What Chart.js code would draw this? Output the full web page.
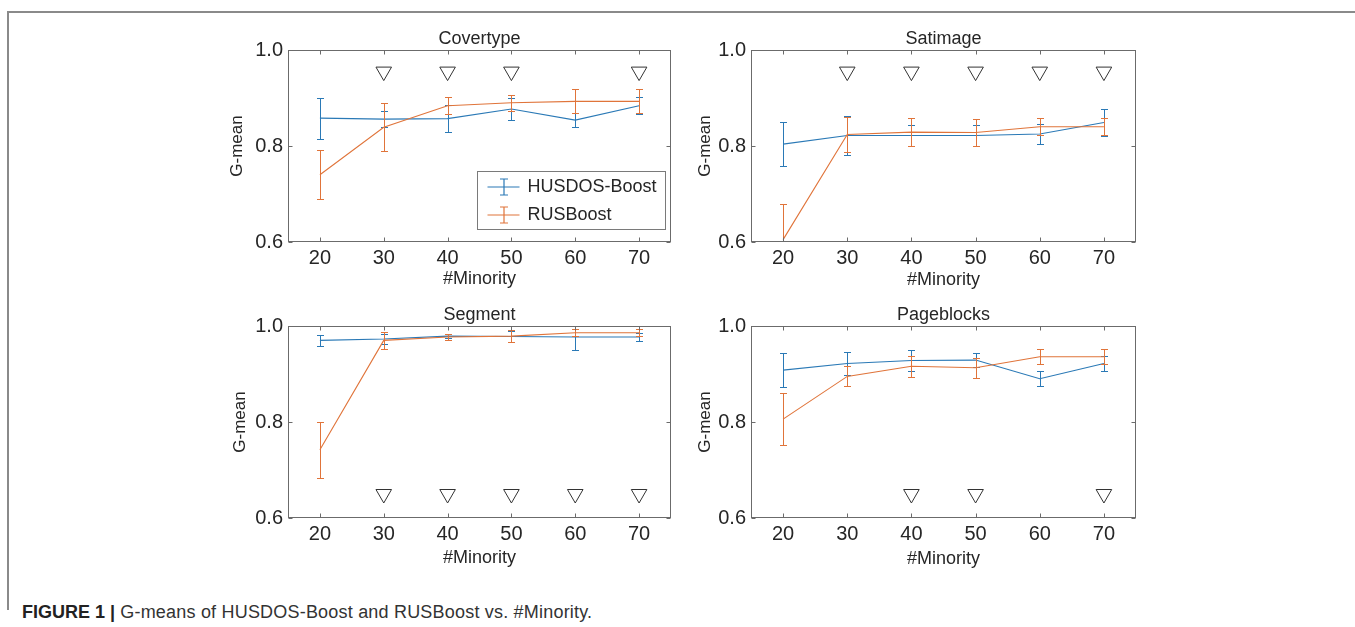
<!DOCTYPE html>
<html><head><meta charset="utf-8">
<script src="https://cdn.jsdelivr.net/npm/chart.js@4.4.1/dist/chart.umd.min.js"></script>
<style>
html,body{margin:0;padding:0;background:#fff;width:1355px;height:627px;overflow:hidden;font-family:"Liberation Sans",Arial,Helvetica,sans-serif;}
.frame{position:absolute;left:7px;top:11px;width:1350px;height:597px;border-top:2px solid #8a8a8a;border-left:2px solid #8a8a8a;}
canvas{position:absolute;}
.caption{position:absolute;left:22px;top:602px;font-size:18px;color:#333;white-space:nowrap;letter-spacing:0.2px;}
.caption b{color:#222;letter-spacing:0;}
</style></head><body>
<div class="frame"></div>
<canvas id="c1"></canvas>
<canvas id="c2"></canvas>
<canvas id="c3"></canvas>
<canvas id="c4"></canvas>
<div class="caption"><b>FIGURE 1 |</b> G-means of HUSDOS-Boost and RUSBoost vs. #Minority.</div>
<script>
// ---------------- DATA ----------------
const minority = [20, 30, 40, 50, 60, 70];
const gTicks = [0.6, 0.8, 1.0];
const seriesNames = ['HUSDOS-Boost', 'RUSBoost'];
const panelTitles = ['Covertype', 'Satimage', 'Segment', 'Pageblocks'];

const covHus    = [0.858, 0.856, 0.857, 0.877, 0.854, 0.884];
const covHusErr = [0.043, 0.016, 0.028, 0.022, 0.014, 0.018];
const covRus    = [0.740, 0.839, 0.884, 0.890, 0.893, 0.893];
const covRusErr = [0.051, 0.050, 0.018, 0.017, 0.025, 0.025];
const covSig    = [30, 40, 50, 70];

const satHus    = [0.804, 0.822, 0.822, 0.822, 0.825, 0.849];
const satHusErr = [0.046, 0.041, 0.022, 0.021, 0.021, 0.028];
const satRus    = [0.605, 0.824, 0.829, 0.828, 0.840, 0.840];
const satRusErr = [0.075, 0.036, 0.030, 0.028, 0.018, 0.018];
const satSig    = [30, 40, 50, 60, 70];

const segHus    = [0.970, 0.973, 0.979, 0.978, 0.977, 0.977];
const segHusErr = [0.011, 0.011, 0.005, 0.011, 0.026, 0.009];
const segRus    = [0.742, 0.970, 0.977, 0.979, 0.986, 0.986];
const segRusErr = [0.058, 0.017, 0.007, 0.012, 0.007, 0.007];
const segSig    = [30, 40, 50, 60, 70];

const pbHus     = [0.908, 0.922, 0.928, 0.929, 0.890, 0.922];
const pbHusErr  = [0.036, 0.024, 0.022, 0.014, 0.016, 0.015];
const pbRus     = [0.806, 0.895, 0.916, 0.913, 0.936, 0.936];
const pbRusErr  = [0.054, 0.021, 0.022, 0.021, 0.016, 0.016];
const pbSig     = [40, 50, 70];

const sigLevelTop = 0.955;     // marker level, top row panels
const sigLevelBottom = 0.65;   // marker level, bottom row panels

// ---------------- STYLE / LAYOUT ----------------
const FONT = '"Liberation Sans", Arial, Helvetica, sans-serif';
const BLUE = '#2a79b6';
const ORANGE = '#e0743a';
const SERIES_COLORS = [BLUE, ORANGE];
const TEXT = '#262626';
const AXIS = '#6b6b6b';

const panels = [
  {id:'c1', L:288, R:671,  T:50,  B:242, yTitleGap:51,   xTitleGap:37, hus:covHus, husE:covHusErr, rus:covRus, rusE:covRusErr, sig:covSig, sigY:sigLevelTop, legend:true},
  {id:'c2', L:751, R:1136, T:50,  B:242, yTitleGap:45.5, xTitleGap:38, hus:satHus, husE:satHusErr, rus:satRus, rusE:satRusErr, sig:satSig, sigY:sigLevelTop},
  {id:'c3', L:288, R:671,  T:326, B:518, yTitleGap:47.5, xTitleGap:40, hus:segHus, husE:segHusErr, rus:segRus, rusE:segRusErr, sig:segSig, sigY:sigLevelBottom},
  {id:'c4', L:751, R:1136, T:326, B:518, yTitleGap:45.5, xTitleGap:41, hus:pbHus,  husE:pbHusErr,  rus:pbRus,  rusE:pbRusErr,  sig:pbSig,  sigY:sigLevelBottom}
];
const Y_AXIS_W = 75, TOP_H = 30, X_AXIS_H = 55, RIGHT_PAD = 14;

// ---------------- PLUGINS ----------------
const errorBarPlugin = {
  id: 'errbars',
  afterDatasetDraw(chart, args) {
    const ds = chart.data.datasets[args.index];
    if (!ds.errors) return;
    const {ctx, chartArea: a} = chart;
    const x = chart.scales.x, y = chart.scales.y;
    ctx.save();
    ctx.beginPath(); ctx.rect(a.left, a.top, a.width, a.height); ctx.clip();
    ctx.strokeStyle = SERIES_COLORS[args.index]; ctx.lineWidth = 1;
    ds.data.forEach((p, i) => {
      const e = ds.errors[i];
      const px = Math.round(x.getPixelForValue(p.x)) + 0.5;
      const y1 = Math.round(y.getPixelForValue(p.y + e)) + 0.5;
      const y2 = Math.round(y.getPixelForValue(p.y - e)) + 0.5;
      ctx.beginPath();
      ctx.moveTo(px, y1); ctx.lineTo(px, y2);
      ctx.moveTo(px - 3.5, y1); ctx.lineTo(px + 3.5, y1);
      ctx.moveTo(px - 3.5, y2); ctx.lineTo(px + 3.5, y2);
      ctx.stroke();
    });
    ctx.restore();
  }
};

const boxPlugin = {
  id: 'axbox',
  afterDraw(chart) {
    const {ctx, chartArea: a} = chart;
    const x = chart.scales.x, y = chart.scales.y;
    const l = Math.round(a.left) + 0.5, r = Math.round(a.right) - 0.5;
    const t = Math.round(a.top) + 0.5, b = Math.round(a.bottom) - 0.5;
    ctx.save();
    ctx.strokeStyle = AXIS; ctx.lineWidth = 1;
    ctx.strokeRect(l, t, r - l, b - t);
    ctx.beginPath();
    const tl = 4;
    x.ticks.forEach(tk => {
      const px = Math.round(x.getPixelForValue(tk.value)) + 0.5;
      ctx.moveTo(px, b); ctx.lineTo(px, b - tl);
      ctx.moveTo(px, t); ctx.lineTo(px, t + tl);
    });
    y.ticks.forEach(tk => {
      const py = Math.round(y.getPixelForValue(tk.value)) + 0.5;
      ctx.moveTo(l, py); ctx.lineTo(l + tl, py);
      ctx.moveTo(r, py); ctx.lineTo(r - tl, py);
    });
    ctx.stroke();
    ctx.restore();
  }
};

const legendPlugin = {
  id: 'inlegend',
  afterDraw(chart, args, opts) {
    if (!opts || !opts.show) return;
    const {ctx, chartArea: a} = chart;
    const w = 188, h = 58;
    const bx = Math.round(a.right - 6 - w) + 0.5, by = Math.round(a.bottom - 13 - h) + 0.5;
    ctx.save();
    ctx.fillStyle = '#ffffff';
    ctx.fillRect(bx, by, w, h);
    ctx.strokeStyle = '#7a7a7a'; ctx.lineWidth = 1;
    ctx.strokeRect(bx, by, w, h);
    for (let i = 0; i < seriesNames.length; i++) {
      const cy = Math.round(by + 15 + i * 28);
      const ex = Math.round(bx + 26);
      ctx.lineWidth = 1.2;
      ctx.strokeStyle = SERIES_COLORS[i];
      ctx.beginPath();
      ctx.moveTo(bx + 10, cy); ctx.lineTo(bx + 42, cy);
      ctx.stroke();
      ctx.beginPath();
      ctx.moveTo(ex, cy - 8); ctx.lineTo(ex, cy + 8);
      ctx.moveTo(ex - 4, cy - 8); ctx.lineTo(ex + 4, cy - 8);
      ctx.moveTo(ex - 4, cy + 8); ctx.lineTo(ex + 4, cy + 8);
      ctx.stroke();
      ctx.fillStyle = TEXT;
      ctx.font = '18px ' + FONT;
      ctx.textBaseline = 'middle';
      ctx.textAlign = 'left';
      ctx.fillText(seriesNames[i], bx + 50, cy);
    }
    ctx.restore();
  }
};

// ---------------- BUILD ----------------
function pts(vals) { return minority.map((m, i) => ({x: m, y: vals[i]})); }

panels.forEach((p, idx) => {
  const cv = document.getElementById(p.id);
  const W = (p.R - p.L) + Y_AXIS_W + RIGHT_PAD;
  const H = (p.B - p.T) + TOP_H + X_AXIS_H;
  cv.width = W; cv.height = H;
  cv.style.width = W + 'px'; cv.style.height = H + 'px';
  cv.style.left = (p.L - Y_AXIS_W) + 'px';
  cv.style.top = (p.T - TOP_H) + 'px';

  new Chart(cv, {
    type: 'line',
    data: {
      datasets: [
        {label: seriesNames[0], data: pts(p.hus), errors: p.husE, borderColor: BLUE, backgroundColor: BLUE,
         borderWidth: 1.1, pointRadius: 0, tension: 0, order: 2},
        {label: seriesNames[1], data: pts(p.rus), errors: p.rusE, borderColor: ORANGE, backgroundColor: ORANGE,
         borderWidth: 1.1, pointRadius: 0, tension: 0, order: 1},
        {type: 'scatter', label: 'sig', data: p.sig.map(v => ({x: v, y: p.sigY})), pointStyle: 'triangle', rotation: 180,
         pointRadius: 9, borderColor: '#333', backgroundColor: 'rgba(255,255,255,0)', borderWidth: 1, showLine: false, order: 0}
      ]
    },
    options: {
      responsive: false, animation: false, devicePixelRatio: 1,
      layout: {padding: {left: 0, right: RIGHT_PAD, top: 0, bottom: 0}},
      plugins: {
        legend: {display: false},
        tooltip: {enabled: false},
        title: {display: true, fullSize: false, text: panelTitles[idx], color: TEXT,
                font: {family: FONT, size: 18, weight: 'normal'}, padding: {top: TOP_H - 21.6, bottom: 0}},
        inlegend: {show: !!p.legend}
      },
      scales: {
        x: {
          type: 'linear', min: 15, max: 75,
          afterBuildTicks: s => { s.ticks = minority.map(v => ({value: v})); },
          afterFit: s => { s.height = X_AXIS_H; },
          grid: {display: false, drawTicks: false}, border: {display: false},
          ticks: {color: TEXT, font: {family: FONT, size: 20}, padding: 4, maxRotation: 0, callback: v => String(v)},
          title: {display: true, text: '#Minority', color: TEXT, font: {family: FONT, size: 18},
                  padding: {top: 0, bottom: X_AXIS_H - p.xTitleGap - 10.8}}
        },
        y: {
          type: 'linear', min: 0.6, max: 1.0,
          afterBuildTicks: s => { s.ticks = gTicks.map(v => ({value: v})); },
          afterFit: s => { s.width = Y_AXIS_W; },
          grid: {display: false, drawTicks: false}, border: {display: false},
          ticks: {color: TEXT, font: {family: FONT, size: 20}, padding: 5, callback: v => Number(v).toFixed(1)},
          title: {display: true, text: 'G-mean', color: TEXT, font: {family: FONT, size: 17},
                  padding: {top: Y_AXIS_W - p.yTitleGap - 10.2, bottom: 0}}
        }
      }
    },
    plugins: [errorBarPlugin, boxPlugin, legendPlugin]
  });
});
</script>
</body></html>
